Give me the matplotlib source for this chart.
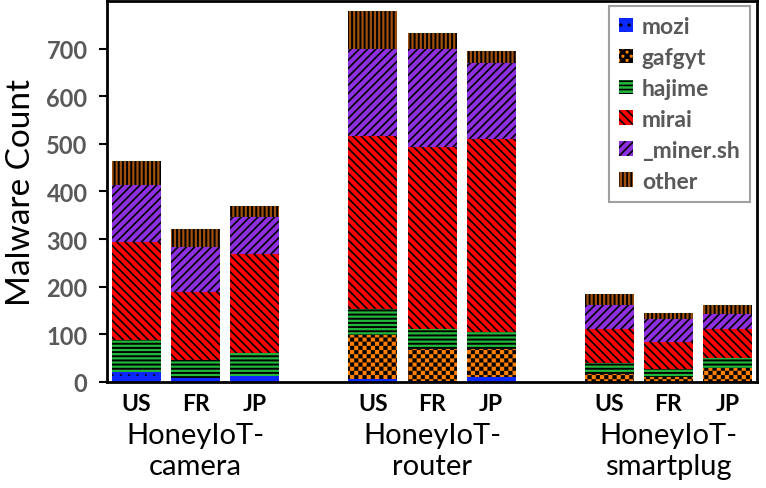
import warnings
import matplotlib
matplotlib.use("Agg")
import matplotlib.pyplot as plt
import matplotlib.hatch as mhatch
from matplotlib.path import Path
from matplotlib.transforms import blended_transform_factory

warnings.filterwarnings("ignore")

# -----------------------
# Data
# -----------------------
groups = ["HoneyIoT-\ncamera", "HoneyIoT-\nrouter", "HoneyIoT-\nsmartplug"]
countries = ["US", "FR", "JP"]
families = ["mozi", "gafgyt", "hajime", "mirai", "_miner.sh", "other"]

mozi = [21, 8, 12, 6, 2, 11, 0, 0, 1]
gafgyt = [0, 0, 0, 92, 67, 58, 17, 10, 28]
hajime = [67, 38, 49, 55, 42, 37, 23, 17, 21]
mirai = [205, 143, 207, 363, 383, 405, 71, 57, 61]
miner = [120, 94, 78, 183, 206, 158, 50, 48, 32]
other = [52, 38, 23, 81, 32, 27, 23, 13, 18]

series = [mozi, gafgyt, hajime, mirai, miner, other]
colors = ["#0A28FF", "#FF8000", "#22B83C", "#FF0000", "#8E2FE0", "#A0500C"]
hatches = ["..", "c", "----", "\\\\\\\\", "////", "||||"]
hatch_lw = [0.3, 0.3, 1.4, 1.2, 1.2, 1.4]

CHECK_LW = 0.3


# -----------------------
# Checkerboard hatch (not built into matplotlib)
# -----------------------
class CheckerHatch(mhatch.HatchPatternBase):
    def __init__(self, hatch, density):
        self.num_cells = 24 if "c" in hatch else 0
        self.num_vertices = (self.num_cells ** 2 // 2) * 5

    def set_vertices_and_codes(self, vertices, codes):
        n = self.num_cells
        s = 1.0 / n
        m = CHECK_LW / 144.0
        k = 0
        for i in range(n):
            for j in range(n):
                if (i + j) % 2:
                    continue
                x0, y0 = i * s + m, j * s + m
                x1, y1 = (i + 1) * s - m, (j + 1) * s - m
                vertices[k:k + 5] = [(x0, y0), (x1, y0), (x1, y1), (x0, y1), (x0, y0)]
                codes[k:k + 5] = [Path.MOVETO, Path.LINETO, Path.LINETO,
                                  Path.LINETO, Path.CLOSEPOLY]
                k += 5


mhatch._hatch_types.append(CheckerHatch)

plt.rcParams["font.family"] = ["Lato", "DejaVu Sans"]
plt.rcParams["hatch.linewidth"] = 1.2

# -----------------------
# Plot
# -----------------------
fig = plt.figure(figsize=(7.66, 4.89), dpi=100)
ax = fig.add_axes([0.1397, 0.2168, 0.8486, 0.7791])

x = [0, 1, 2, 4, 5, 6, 8, 9, 10]
bottom = [0] * len(x)
handles = []
for vals, name, col, h, lw in zip(series, families, colors, hatches, hatch_lw):
    bars = ax.bar(x, vals, width=0.83, bottom=bottom, color=col,
                  edgecolor="black", linewidth=0, hatch=h)
    for b in bars:
        if hasattr(b, "set_hatch_linewidth"):
            b.set_hatch_linewidth(lw)
    handles.append(bars)
    bottom = [b0 + v for b0, v in zip(bottom, vals)]

ax.set_xlim(-0.5, 10.5)
ax.set_ylim(0, 800)
ax.set_yticks(range(0, 701, 100))
ax.set_xticks(x)
ax.set_xticklabels(countries * 3)

for lab in ax.get_yticklabels():
    lab.set_fontweight("bold")
    lab.set_color("#595959")
    lab.set_fontsize(17)
for lab in ax.get_xticklabels():
    lab.set_fontweight("bold")
    lab.set_color("black")
    lab.set_fontsize(16.5)

ax.tick_params(axis="y", direction="out", length=6, width=1.5, pad=8)
ax.tick_params(axis="x", length=0, pad=8)

for sp in ax.spines.values():
    sp.set_linewidth(2)
    sp.set_color("black")

ax.set_ylabel("Malware Count", fontsize=24)
ax.yaxis.set_label_coords(-0.11, 0.5)

trans = blended_transform_factory(ax.transData, ax.transAxes)
for gx, g in zip([1, 5, 9], groups):
    ax.text(gx, -0.105, g, transform=trans, ha="center", va="top",
            fontsize=21, linespacing=1.22)

leg = ax.legend(handles, families, loc="upper right",
                bbox_to_anchor=(0.989, 0.987),
                borderaxespad=0, fancybox=False, framealpha=1,
                edgecolor="#A0A0A0", handlelength=0.6, handleheight=0.6,
                handletextpad=0.4, labelspacing=0.43, borderpad=0.45,
                prop={"weight": "bold", "size": 16.5})
leg.get_frame().set_linewidth(1.5)
for t in leg.get_texts():
    t.set_color("#595959")

fig.savefig("out.png", dpi=100)
